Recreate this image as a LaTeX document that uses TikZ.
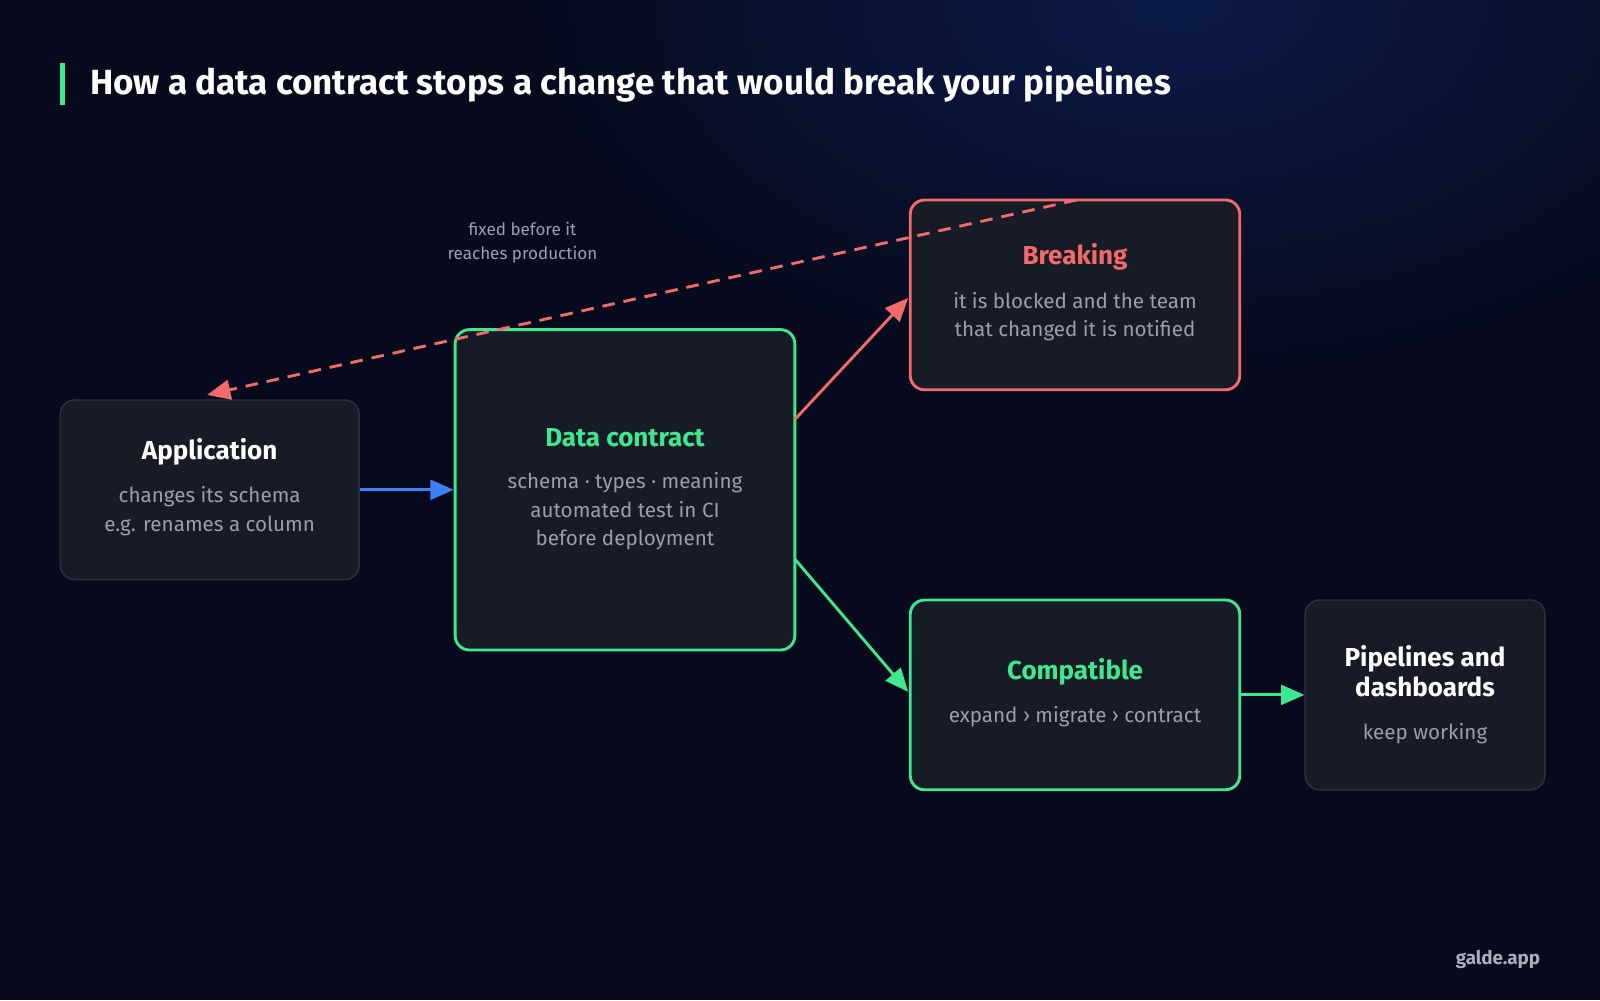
\documentclass[tikz,border=0pt]{standalone}
\usepackage{fontspec}
\setmainfont{Fira Sans}
\usetikzlibrary{arrows.meta,shadings}
\definecolor{bg}{HTML}{070A1C}
\definecolor{glow}{HTML}{0B1A48}
\definecolor{boxf}{HTML}{161B26}
\definecolor{boxb}{HTML}{2C323D}
\definecolor{gr}{HTML}{3EE88F}
\definecolor{rd}{HTML}{F26A6A}
\definecolor{bl}{HTML}{3B82F6}
\definecolor{tx}{HTML}{9AA0AB}
\begin{document}
\begin{tikzpicture}[x=0.02cm,y=-0.02cm,
 box/.style={draw=boxb,line width=0.8pt,fill=boxf,rounded corners=8pt},
 gbox/.style={box,draw=gr,line width=1.6pt},
 rbox/.style={box,draw=rd,line width=1.6pt},
 ttl/.style={font=\fontsize{14.5}{17}\selectfont\bfseries},
 sub/.style={text=tx,font=\fontsize{11.5}{15.8}\selectfont,align=center},
 arr/.style={line width=1.6pt,-{Triangle[length=13pt,width=11pt]}}]
\useasboundingbox (0,0) rectangle (1568,980);
\fill[bg] (0,0) rectangle (1568,980);
\begin{scope}
\clip (0,0) rectangle (1568,980);
\shade[inner color=glow,outer color=bg] (1150,0) ellipse [x radius=650,y radius=380];
\end{scope}
\fill[gr] (59,62) rectangle (64,103);
\node[anchor=west,text=white,font=\fontsize{19.5}{22}\selectfont\bfseries] (title) at (82,83) {How a data contract stops a change that would break your pipelines};
% boxes
\node[box,minimum width=5.86cm,minimum height=3.52cm] (app) at (205.5,480) {};
\node[gbox,minimum width=6.66cm,minimum height=6.28cm] (dc) at (612.5,480) {};
\node[rbox,minimum width=6.46cm,minimum height=3.72cm] (brk) at (1053.5,289) {};
\node[gbox,minimum width=6.46cm,minimum height=3.72cm] (cmp) at (1053.5,681) {};
\node[box,minimum width=4.7cm,minimum height=3.72cm] (pip) at (1396.5,681) {};
% texts
\node[ttl,text=white] (appt) at (205.5,443) {Application};
\node[sub] (apps) at (205.5,501) {changes its schema\\e.g. renames a column};
\node[ttl,text=gr] (dct) at (612.5,429) {Data contract};
\node[sub] (dcs) at (612.5,501) {schema · types · meaning\\automated test in CI\\before deployment};
\node[ttl,text=rd] (brkt) at (1053.5,252) {Breaking};
\node[sub] (brks) at (1053.5,310) {it is blocked and the team\\that changed it is notified};
\node[ttl,text=gr] (cmpt) at (1053.5,658) {Compatible};
\node[sub] (cmps) at (1053.5,702) {expand › migrate › contract};
\node[ttl,text=white,align=center] (pipt) at (1396.5,658) {Pipelines and\\dashboards};
\node[sub] (pips) at (1396.5,719) {keep working};
\node[text=tx,font=\fontsize{9.5}{13.5}\selectfont,align=center] (lbl) at (512,238) {fixed before it\\reaches production};
\node[text=tx!85,font=\fontsize{10.5}{12}\selectfont\bfseries] (brand) at (1468,940) {galde.app};
% connectors
\coordinate (s1) at (779,411); \coordinate (e1) at (890,292);
\coordinate (s2) at (779,548); \coordinate (e2) at (890,678);
\coordinate (ds) at (1055,196); \coordinate (de) at (203,387);
\draw[arr,bl] (app.east) -- (dc.west);
\draw[arr,rd] (s1) -- (e1);
\draw[arr,gr] (s2) -- (e2);
\draw[arr,gr] (cmp.east) -- (pip.west);
\draw[arr,rd,dash pattern=on 7pt off 5pt] (ds) -- (de);
\end{tikzpicture}
\end{document}
